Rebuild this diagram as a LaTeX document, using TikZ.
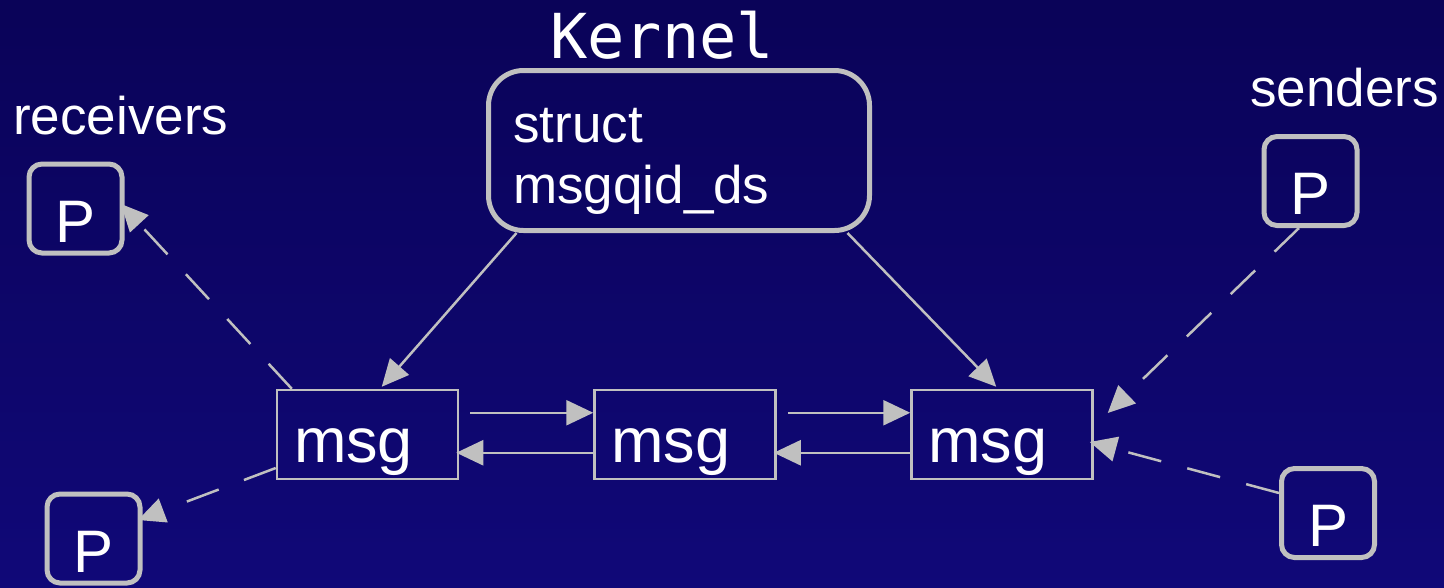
\documentclass[tikz,border=0pt]{standalone}
\usepackage{fontspec}
\setmainfont{Liberation Sans}
\newfontfamily\kmono{DejaVu Sans Mono}
\usetikzlibrary{arrows.meta,calc}
\definecolor{lgray}{RGB}{192,192,192}
\definecolor{bgtop}{RGB}{10,3,88}
\definecolor{bgbot}{RGB}{16,8,120}
\tikzset{
  pbox/.style={draw=lgray,line width=5pt,rounded corners=13pt,minimum width=93pt,
    inner sep=0pt,text height=78pt,text depth=11pt,align=center,text width=93pt,
    text=white,font=\fontsize{60}{60}\selectfont},
  mbox/.style={draw=lgray,line width=2.5pt,inner xsep=17pt,inner ysep=0pt,
    text width=147pt,align=left,text height=72pt,text depth=17pt,text=white,
    font=\fontsize{63}{63}\selectfont},
  kbox/.style={draw=lgray,line width=5pt,rounded corners=35pt,minimum width=381pt,
    minimum height=160pt,inner sep=0pt},
  lbl/.style={text=white,inner sep=0pt,font=\fontsize{53}{61}\selectfont},
  conn/.style={draw=lgray,line width=2.5pt,-{Triangle[length=27pt,width=25pt]}},
  dconn/.style={conn,dash pattern=on 34pt off 27pt},
}
\begin{document}
\begin{tikzpicture}[x=1pt,y=-1pt]
\shade[top color=bgtop,bottom color=bgbot] (0,0) rectangle (1444,587);
\useasboundingbox (0,0) rectangle (1444,587);
% labels
\node[lbl,anchor=base west] (recvlbl) at (13,134) {receivers};
\node[lbl,anchor=base west] (sendlbl) at (1250,106) {senders};
\node[text=white,inner sep=0pt,anchor=base west,font=\kmono\fontsize{62}{62}\selectfont] (klbl) at (550,58) {Kernel};
% kernel box
\node[kbox] (kernel) at (679,150.5) {};
\node[lbl,anchor=base west,align=left] (ktext) at (513,203) {struct\\msgqid\_ds};
% P boxes
\node[pbox] (precv) at (75.5,208.5) {P};
\node[pbox] (psend) at (1310.5,181) {P};
\node[pbox] (pbl) at (93.5,538.5) {P};
\node[pbox] (pbr) at (1328,513) {P};
% msg boxes
\node[mbox] (m1) at (367.5,434.5) {msg};
\node[mbox] (m2) at (685,434.5) {msg};
\node[mbox] (m3) at (1002,434.5) {msg};
% kernel connectors
\draw[conn] ([xshift=30.5pt]kernel.south west) -- ([xshift=106pt,yshift=2pt]m1.north west);
\draw[conn] ([xshift=-24.5pt]kernel.south east) -- ([xshift=86pt,yshift=2pt]m3.north west);
% queue links
\draw[conn] ([xshift=11pt,yshift=-24pt]m1.north east) -- ([yshift=-24pt]m2.north west);
\draw[conn] ([yshift=-64pt]m2.north west) -- ([xshift=-3pt,yshift=-64pt]m1.north east);
\draw[conn] ([xshift=11pt,yshift=-24pt]m2.north east) -- ([yshift=-24pt]m3.north west);
\draw[conn] ([yshift=-64pt]m3.north west) -- ([xshift=-3pt,yshift=-64pt]m2.north east);
% dashed
\draw[dconn] ([xshift=16pt]m1.north west) -- ([xshift=-3.5pt,yshift=4.5pt]precv.east);
\draw[dconn] ([yshift=-33.5pt]m1.west) -- ([xshift=-4.5pt,yshift=18.5pt]pbl.east);
\draw[dconn] ([xshift=-11.5pt]psend.south) -- ([xshift=14pt,yshift=21.5pt]m3.east);
\draw[dconn] ([yshift=20pt]pbr.west) -- ([xshift=-4pt,yshift=-7.5pt]m3.east);
\end{tikzpicture}
\end{document}
